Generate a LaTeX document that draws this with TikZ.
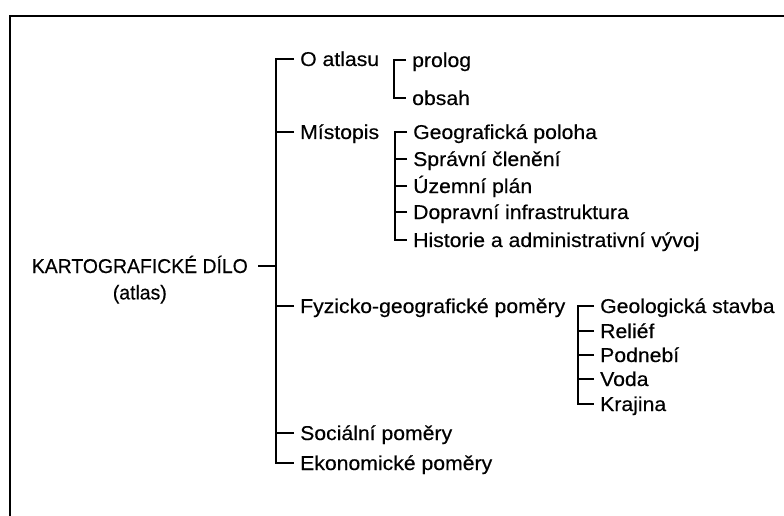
\documentclass[tikz,border=0pt]{standalone}
\usepackage{fontspec}
\setmainfont{Liberation Sans}
\newfontfamily\itemfont{Liberation Sans}[FakeStretch=1.06, FakeBold=0.4]
\newfontfamily\rootfont{Liberation Sans}[FakeStretch=0.97, FakeBold=0.4]
\usetikzlibrary{positioning}

\tikzset{
  item/.style={anchor=west, inner xsep=6pt, inner ysep=0pt, text height=17pt, text depth=3pt, font=\itemfont\fontsize{20}{22}\selectfont},
  rootbox/.style={inner xsep=10pt, inner ysep=0pt, text height=17pt, text depth=3pt, font=\rootfont\fontsize{20}{22}\selectfont},
  bar/.style={line width=2.3pt},
}

\begin{document}
\begin{tikzpicture}[x=1pt,y=-1pt]
    \useasboundingbox (0,0) rectangle (784,516);

    % frame
    \draw[line width=2.8pt] (10,530) -- (10,16) -- (800,16);

    % the work itself
    \node[rootbox, anchor=east] (root) at (258,266) {KARTOGRAFICKÉ DÍLO};
    \node[rootbox, below=6pt of root] (rootsub) {(atlas)};

    %%%%%%%%%%%%%%%%%%%%%%%%%%%%%%%%%%%%%%%%%%%%%%%%%%%%%%%%%

    % first level
    \coordinate (mainbar) at (276,0);
    \node[item] (atlas) at (294,59) {O atlasu};
    \node[item] (mistopis) at (294,132) {Místopis};
    \node[item] (fyzicko) at (294,306) {Fyzicko-geografické poměry};
    \node[item] (socialni) at (294,433) {Sociální poměry};
    \node[item] (ekonomicke) at (294,463) {Ekonomické poměry};

    \draw[bar] (root.east) -- (root.east -| mainbar);
    \draw[bar] (atlas.west) -| (ekonomicke.west -| mainbar) -- (ekonomicke.west);
    \foreach \n in {mistopis,fyzicko,socialni}
        \draw[bar] (\n.west) -- (\n.west -| mainbar);

    % O atlasu
    \coordinate (atlasbar) at (394,0);
    \node[item] (prolog) at (406,60) {prolog};
    \node[item] (obsah) at (406,98) {obsah};
    \draw[bar] (prolog.west) -| (obsah.west -| atlasbar) -- (obsah.west);

    % Mistopis
    \coordinate (mistbar) at (395,0);
    \node[item] (poloha) at (407,132) {Geografická poloha};
    \node[item] (cleneni) at (407,159) {Správní členění};
    \node[item] (plan) at (407,186) {Územní plán};
    \node[item] (doprava) at (407,212) {Dopravní infrastruktura};
    \node[item] (historie) at (407,240) {Historie a administrativní vývoj};
    \draw[bar] (poloha.west) -| (historie.west -| mistbar) -- (historie.west);
    \foreach \n in {cleneni,plan,doprava}
        \draw[bar] (\n.west) -- (\n.west -| mistbar);

    % Fyzicko-geograficke pomery
    \coordinate (fyzbar) at (578,0);
    \node[item] (geologie) at (594,306) {Geologická stavba};
    \node[item] (relief) at (594,331) {Reliéf};
    \node[item] (podnebi) at (594,355) {Podnebí};
    \node[item] (voda) at (594,379) {Voda};
    \node[item] (krajina) at (594,404) {Krajina};
    \draw[bar] (geologie.west) -| (krajina.west -| fyzbar) -- (krajina.west);
    \foreach \n in {relief,podnebi,voda}
        \draw[bar] (\n.west) -- (\n.west -| fyzbar);

\end{tikzpicture}
\end{document}
